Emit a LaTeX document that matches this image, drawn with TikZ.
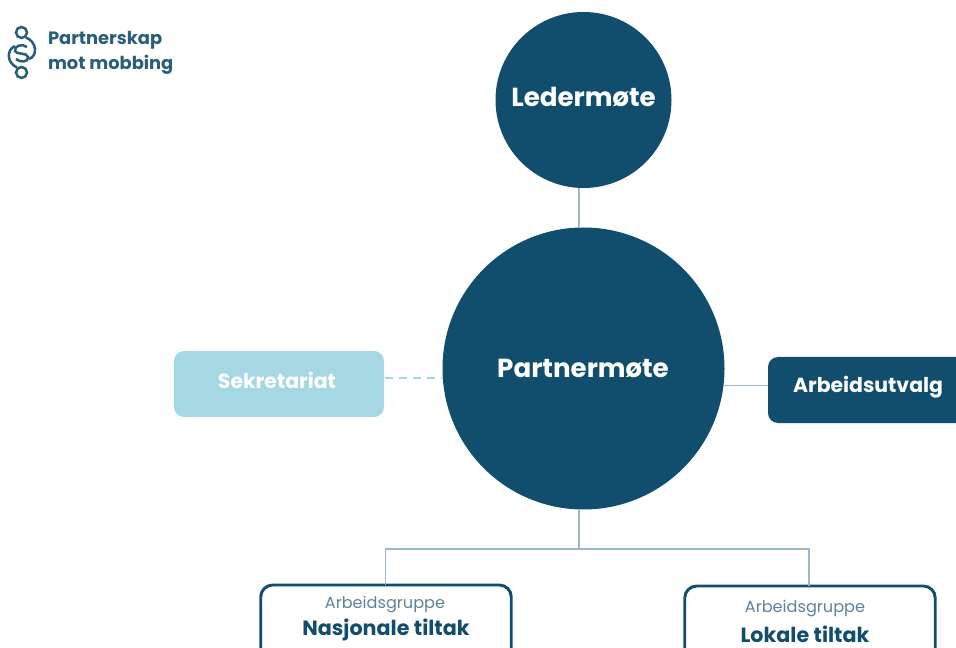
\documentclass[tikz,border=0pt]{standalone}
\usepackage{fontspec}
\setmainfont{Poppins}
\definecolor{darkblue}{HTML}{114D6C}
\definecolor{lightblue}{HTML}{A5D8E3}
\definecolor{linegray}{HTML}{9DB9C7}
\definecolor{softblue}{HTML}{5F829A}
\tikzset{every picture/.style={line width=0.75pt}}
\tikzset{
  bigcircle/.style={circle,fill=darkblue,inner sep=0pt},
  solidbox/.style={rounded corners=7.5pt,inner sep=0pt,minimum width=157.5pt,minimum height=49.5pt},
  groupbox/.style={draw=darkblue,line width=2.2pt,fill=white,rounded corners=9pt,minimum width=187.9pt,minimum height=57pt,inner sep=0pt},
  biglabel/.style={text=white,inner sep=0pt,font=\bfseries\fontsize{19.6}{22}\selectfont},
  boxlabel/.style={text=white,inner sep=0pt,font=\bfseries\fontsize{15.3}{18}\selectfont},
  gruppelabel/.style={text=softblue,inner sep=0pt,font=\fontsize{12.1}{15}\selectfont},
  tiltaklabel/.style={text=darkblue,inner sep=0pt,font=\bfseries\fontsize{15.5}{18}\selectfont},
  conn/.style={draw=linegray,line width=1pt},
  logotext/.style={inner sep=0pt,anchor=base west,text=darkblue!90!white,font=\bfseries\fontsize{13.4}{16}\selectfont},
  logoline/.style={draw=darkblue!90!white,line width=1.9pt},
}
\begin{document}
\begin{tikzpicture}[x=0.75pt,y=0.75pt,yscale=-1,xscale=1]
        \useasboundingbox (0,0) rectangle (956,648);
        \clip (0,0) rectangle (956,648);
        % Circles
        \node [bigcircle,minimum size=132pt] (ledermote) at (583.5,100) {};
        \node [biglabel] (lederlabel) at (583.5,97) {Ledermøte};
        \node [bigcircle,minimum size=211.5pt] (partnermote) at (583.5,368.5) {};
        \node [biglabel] (partnerlabel) at (583,368) {Partnermøte};
        % Boxes
        \node [solidbox,fill=lightblue] (sekretariat) at (279,384) {};
        \node [boxlabel] (sekretariatlabel) at (277,380) {Sekretariat};
        \node [solidbox,fill=darkblue] (arbeidsutvalg) at (873,390) {};
        \node [boxlabel] (arbeidslabel) at (868,387) {Arbeidsutvalg};
        \node [groupbox] (nasjonale) at (386,623) {};
        \node [groupbox] (lokale) at (810,624) {};
        \node [gruppelabel] (gruppeone) at (385,605) {Arbeidsgruppe};
        \node [tiltaklabel] (nasjonalelabel) at (386,630) {Nasjonale tiltak};
        \node [gruppelabel] (gruppetwo) at (805,609) {Arbeidsgruppe};
        \node [tiltaklabel] (lokalelabel) at (805,634) {Lokale tiltak};
        % Connectors
        \coordinate (stemx) at (579,549);
        \draw [conn] (stemx |- ledermote.south) -- (stemx |- partnermote.north);
        \draw [conn] (stemx |- partnermote.south) -- (stemx);
        \draw [conn] (385.5,585) -- (385.5,549) -- (809,549) -- (809,586);
        \draw [conn] (partnermote.-7.3) -- (partnermote.-7.3 -| arbeidsutvalg.west);
        \draw [draw=lightblue,line width=1.5pt,dash pattern={on 6pt off 4.5pt}] (sekretariat.east |- partnermote.184.5) -- (partnermote.184.5);
        % Logo
        \draw [logoline] (21.5,32.5) circle [radius=5.5];
        \draw [logoline] (21.5,72.5) circle [radius=5.5];
        \draw [logoline] (26,37.5) .. controls (37,42) and (38,56) .. (29,59);
        \draw [logoline] (17,67.5) .. controls (7,63) and (6,50) .. (15,46);
        \draw [logoline] (27,47) .. controls (22,43) and (14,46) .. (15,51) .. controls (16,55) and (27,52) .. (28,57) .. controls (29,62) and (20,63) .. (16,59);
        \node [logotext] (logoone) at (47.5,45) {Partnerskap};
        \node [logotext] (logotwo) at (47.5,69.5) {mot mobbing};
\end{tikzpicture}
\end{document}
